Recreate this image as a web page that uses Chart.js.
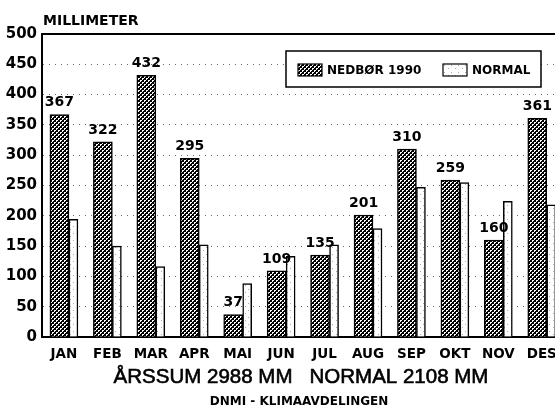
<!DOCTYPE html>
<html>
<head>
<meta charset="utf-8">
<script src="https://cdn.jsdelivr.net/npm/chart.js@4.4.1/dist/chart.umd.min.js"></script>
<style>
  html, body { margin: 0; padding: 0; background: #fff; overflow: hidden; }
  #wrap { width: 555px; height: 408px; overflow: hidden; }
</style>
</head>
<body>
<div id="wrap"><canvas id="chart" width="580" height="408"></canvas></div>
<script>
// data
const months = ["JAN", "FEB", "MAR", "APR", "MAI", "JUN", "JUL", "AUG", "SEP", "OKT", "NOV", "DES"];
const nedbor1990 = [367, 322, 432, 295, 37, 109, 135, 201, 310, 259, 160, 361];
const normal = [194, 150, 116, 152, 88, 133, 152, 179, 247, 255, 224, 218];
const yTicks = [0, 50, 100, 150, 200, 250, 300, 350, 400, 450, 500];

const sum = (arr) => arr.reduce((a, b) => a + b, 0);

// fill patterns (kryssskravert / prikket)
const makePattern = (size, draw) => {
  const c = document.createElement("canvas");
  c.width = c.height = size;
  const g = c.getContext("2d");
  draw(g);
  return g.createPattern(c, "repeat");
};
const hatch = makePattern(4, (g) => {
  g.fillStyle = "#000";
  g.fillRect(0, 0, 4, 4);
  g.fillStyle = "#fff";
  g.fillRect(0, 0, 2, 2);
  g.fillRect(2, 2, 2, 2);
  g.fillStyle = "#000";
  g.fillRect(1, 1, 1, 1);
  g.fillRect(3, 3, 1, 1);
});
const dots = makePattern(7, (g) => {
  g.fillStyle = "#fff";
  g.fillRect(0, 0, 7, 7);
  g.fillStyle = "#aaa";
  g.fillRect(3, 2, 1, 1);
  g.fillRect(0, 5, 1, 1);
});

const boldFont = (size) => `bold ${size}px "DejaVu Sans"`;

// verdier over nedbørsøylene + legend + tekster
const extrasPlugin = {
  id: "extras",
  afterDatasetsDraw(chart) {
    const { ctx } = chart;
    const meta = chart.getDatasetMeta(0);
    ctx.save();
    ctx.font = boldFont(14);
    ctx.fillStyle = "#000";
    ctx.textAlign = "center";
    ctx.textBaseline = "bottom";
    meta.data.forEach((bar, i) => {
      ctx.fillText(String(nedbor1990[i]), bar.x, bar.y - 5);
    });
    ctx.restore();
  },
  afterDraw(chart) {
    const { ctx } = chart;
    ctx.save();
    ctx.fillStyle = "#000";

    ctx.font = boldFont(14);
    ctx.textAlign = "left";
    ctx.textBaseline = "alphabetic";
    ctx.fillText("MILLIMETER", 43, 25);

    // legend box
    ctx.fillStyle = "#fff";
    ctx.fillRect(286, 51, 255, 36);
    ctx.strokeStyle = "#000";
    ctx.lineWidth = 1.5;
    ctx.strokeRect(286, 51, 255, 36);
    const items = [
      { x: 298, tx: 327 },
      { x: 443, tx: 472 },
    ];
    chart.data.datasets.forEach((ds, i) => {
      const it = items[i];
      ctx.fillStyle = ds.backgroundColor;
      ctx.fillRect(it.x, 64, 24, 12);
      ctx.lineWidth = 1.2;
      ctx.strokeRect(it.x, 64, 24, 12);
      ctx.fillStyle = "#000";
      ctx.font = boldFont(12);
      ctx.textBaseline = "middle";
      ctx.fillText(ds.label, it.tx, 70.5);
    });

    ctx.textAlign = "center";
    ctx.textBaseline = "alphabetic";
    ctx.font = '20.5px "Liberation Sans"';
    const sumText = `ÅRSSUM ${sum(nedbor1990)} MM   NORMAL ${sum(normal)} MM`;
    ctx.lineWidth = 0.6;
    ctx.fillText(sumText, 301, 383);
    ctx.strokeText(sumText, 301, 383);
    ctx.font = boldFont(12);
    ctx.fillText("DNMI - KLIMAAVDELINGEN", 299, 405);
    ctx.restore();
  },
};

new Chart(document.getElementById("chart"), {
  type: "bar",
  data: {
    datasets: [
      {
        label: "NEDBØR 1990",
        data: nedbor1990.map((v, i) => ({ x: i, y: v })),
        backgroundColor: hatch,
        borderColor: "#000",
        borderWidth: 1.5,
        barThickness: 19,
      },
      {
        label: "NORMAL",
        data: normal.map((v, i) => ({ x: i, y: v })),
        backgroundColor: dots,
        borderColor: "#000",
        borderWidth: 1.5,
        barThickness: 9,
      },
    ],
  },
  options: {
    responsive: false,
    animation: false,
    layout: { padding: { top: 34, right: 5, left: 0, bottom: 0 } },
    plugins: {
      legend: { display: false },
      tooltip: { enabled: false },
    },
    scales: {
      x: {
        type: "linear",
        min: -0.62,
        max: 11.65,
        bounds: "data",
        offset: false,
        afterBuildTicks: (s) => { s.ticks = months.map((m, i) => ({ value: i - 0.115 })); },
        afterFit: (s) => { s.height = 71; },
        ticks: {
          autoSkip: false,
          maxRotation: 0,
          padding: 1,
          color: "#000",
          font: { family: "DejaVu Sans", weight: "bold", size: 13.5 },
          callback: (v, i) => months[i],
        },
        grid: { display: false },
        border: { color: "#000", width: 2 },
      },
      top: {
        type: "linear",
        position: "top",
        ticks: { display: false },
        grid: { display: false, drawTicks: false },
        afterFit: (s) => { s.height = 0; },
        border: { color: "#000", width: 2 },
      },
      y: {
        min: 0,
        max: 500,
        afterBuildTicks: (s) => { s.ticks = yTicks.map((v) => ({ value: v })); },
        afterFit: (s) => { s.width = 42; },
        ticks: {
          padding: 5,
          color: "#000",
          font: { family: "DejaVu Sans", weight: "bold", size: 15 },
        },
        grid: { color: "#666", lineWidth: 1, drawTicks: false },
        border: { color: "#000", width: 2, dash: [1, 5] },
      },
    },
  },
  plugins: [extrasPlugin],
});
</script>
</body>
</html>
